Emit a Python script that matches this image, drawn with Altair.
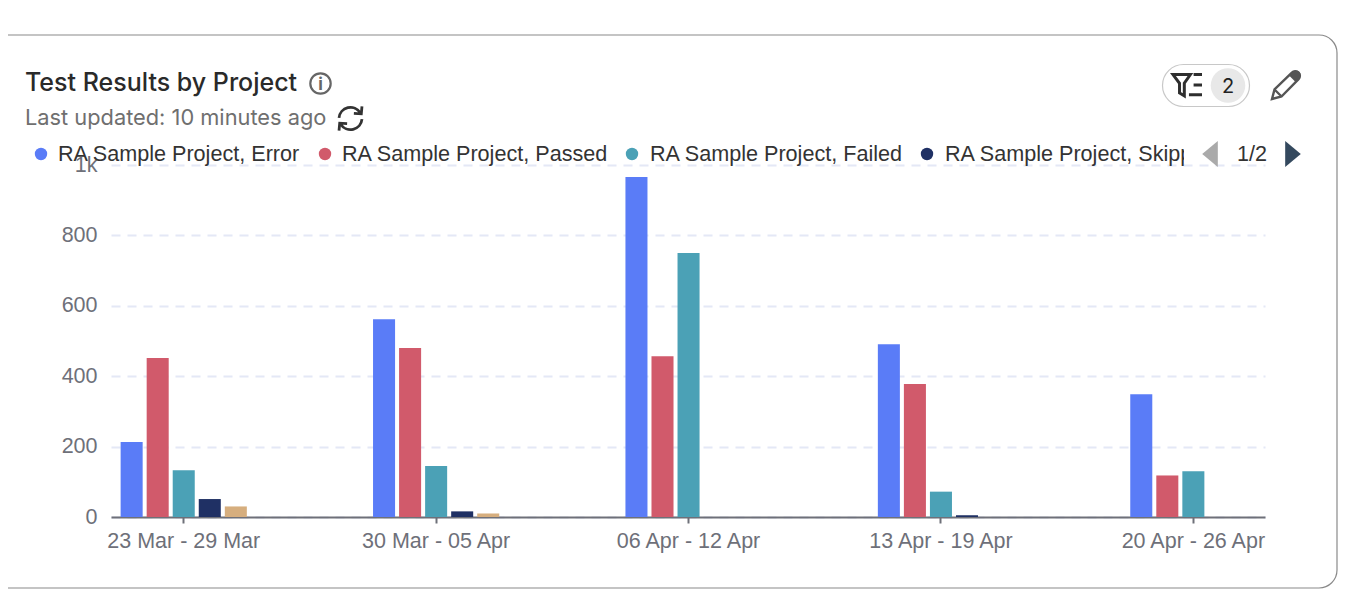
import math

import altair as alt
import pandas as pd

weeks = ["23 Mar - 29 Mar", "30 Mar - 05 Apr", "06 Apr - 12 Apr", "13 Apr - 19 Apr", "20 Apr - 26 Apr"]
series = ["RA Sample Project, Error", "RA Sample Project, Passed", "RA Sample Project, Failed",
          "RA Sample Project, Skipped", "RA Sample Project, Unknown"]
colors = ["#5a7cf7", "#d15a6b", "#4ba1b6", "#1f3064", "#d6ae7e"]
error = [213, 562, 966, 491, 349]
passed = [452, 480, 457, 378, 118]
failed = [133, 145, 750, 72, 130]
skipped = [51, 16, 0, 5, 0]
unknown = [30, 10, 0, 0, 0]
y_ticks = [0, 200, 400, 600, 800, 1000]

legend_dot_x = [41, 325, 632, 927]
legend_text_x = [58, 342, 650, 945]

OX, OY = 111, 165  # page position of the plot origin


def X(v):
    return v - OX


def Y(v):
    return v - OY


rows = []
for name, vals in zip(series, [error, passed, failed, skipped, unknown]):
    for w, v in zip(weeks, vals):
        rows.append({"week": w, "series": name, "value": v})
df = pd.DataFrame(rows)

one = alt.Data(values=[{"a": 1}])


def text(s, x, y, size, color, font, weight=400, align="left"):
    return alt.Chart(one).mark_text(
        font=font, fontSize=size, color=color, fontWeight=weight, align=align, baseline="alphabetic"
    ).encode(x=alt.value(X(x)), y=alt.value(Y(y)), text=alt.value(s))


def box(x0, y0, x1, y1, fill="#ffffff", stroke=None, radius=0, sw=1.0, fill_opacity=1):
    kw = dict(fill=fill, fillOpacity=fill_opacity, cornerRadius=radius)
    if stroke:
        kw.update(stroke=stroke, strokeWidth=sw)
    return alt.Chart(one).mark_rect(**kw).encode(
        x=alt.value(X(x0)), x2=alt.value(X(x1)), y=alt.value(Y(y0)), y2=alt.value(Y(y1))
    )


def icon(path, x, y, r, stroke=None, fill=None, sw=2.0):
    kw = dict(shape=path, size=(2 * r) ** 2, opacity=1, filled=fill is not None)
    if fill:
        kw["fill"] = fill
    if stroke:
        kw.update(stroke=stroke, strokeWidth=sw)
    else:
        kw["strokeWidth"] = 0
    return alt.Chart(one).mark_point(**kw).encode(x=alt.value(X(x)), y=alt.value(Y(y)))


def dot(x, y, d, color=None, stroke=None, sw=2.0):
    kw = dict(shape="circle", size=math.pi * (d / 2) ** 2, opacity=1, filled=color is not None)
    if color:
        kw["fill"] = color
    if stroke:
        kw.update(stroke=stroke, strokeWidth=sw)
    else:
        kw["strokeWidth"] = 0
    return alt.Chart(one).mark_point(**kw).encode(x=alt.value(X(x)), y=alt.value(Y(y)))


INTER = "Inter"
LIB = "Liberation Sans"

bars = alt.Chart(df).mark_bar().encode(
    x=alt.X(
        "week:N", sort=weeks, title=None,
        scale=alt.Scale(paddingInner=0.5, paddingOuter=0.036, align=0.53),
        axis=alt.Axis(
            labelAngle=0, labelFont=LIB, labelFontSize=21.5, labelColor="#6e7079", labelPadding=7,
            labelOverlap=False, labelFlush=False, domainColor="#6e7079", domainWidth=2,
            tickColor="#6e7079", tickWidth=2, tickSize=6, grid=False,
        ),
    ),
    xOffset=alt.XOffset("series:N", sort=series, scale=alt.Scale(paddingInner=0.154)),
    y=alt.Y(
        "value:Q", title=None,
        scale=alt.Scale(domain=[0, 1000], nice=False),
        axis=alt.Axis(
            values=y_ticks, labelExpr="datum.value >= 1000 ? '1k' : datum.label", labelFont=LIB,
            labelFontSize=21.5, labelColor="#6e7079", labelPadding=14, ticks=False, domain=False,
            grid=True, gridColor="#e4e8f6", gridWidth=2, gridDash=[9, 7],
        ),
    ),
    color=alt.Color("series:N", sort=series, scale=alt.Scale(domain=series, range=colors), legend=None),
)

card = box(-10, 35, 1337, 588, fill="#ffffff", fill_opacity=0, stroke="#8a8a8a", radius=18, sw=1.2)

REFRESH = ("M-0.85,-0.05 A0.85,0.85 0 0 1 0.72,-0.42 M0.85,-0.9 L0.8,-0.35 L0.25,-0.38 "
           "M0.85,0.05 A0.85,0.85 0 0 1 -0.72,0.42 M-0.85,0.9 L-0.8,0.35 L-0.25,0.38")
FUNNEL = ("M-1,-0.72 L0.2,-0.72 L-0.22,-0.12 L-0.22,0.75 L-0.55,0.55 L-0.55,-0.12 Z "
          "M0.42,-0.72 L1,-0.72 M0.42,0 L1,0 M0.1,0.68 L1,0.68")
PENCIL = ("M-1,1 L-0.82,0.32 L0.42,-0.88 A0.3,0.3 0 0 1 0.9,-0.42 L-0.32,0.82 Z "
          "M-0.82,0.32 L-0.32,0.82")
CAP = "M0.22,-0.68 L0.5,-0.95 A0.3,0.3 0 0 1 0.95,-0.5 L0.68,-0.22 Z"
TRI_L = "M0.6,-1 L-0.6,0 L0.6,1 Z"
TRI_R = "M-0.6,-1 L0.6,0 L-0.6,1 Z"

layers = [bars, card]

# header
layers += [
    text("Test Results by Project", 25, 91, 25, "#2a2a2a", INTER, 500),
    text("Last updated: 10 minutes ago", 25, 125, 21.8, "#6f6f6f", INTER),
    dot(320.5, 83.5, 23, stroke="#666666", sw=2.2),
    text("i", 320.5, 90, 17, "#666666", INTER, 700, "center"),
    icon(REFRESH, 350.5, 118.5, 13.5, stroke="#333333", sw=2.8),
    box(1162.5, 64.5, 1249.5, 106.5, fill="#ffffff", stroke="#c8c8c8", radius=21, sw=1.2),
    dot(1228, 85.5, 39, color="#e8e8e8"),
    text("2", 1228, 93, 20, "#222222", INTER, 400, "center"),
    icon(FUNNEL, 1187.5, 85, 14.5, stroke="#2e2e2e", sw=3),
    icon(PENCIL, 1286, 85, 14, stroke="#555555", sw=2.4),
    icon(CAP, 1286, 85, 14, fill="#555555"),
]

# legend page
for nm, c, dx, tx in zip(series[:4], colors[:4], legend_dot_x, legend_text_x):
    layers.append(dot(dx, 154, 14, color=c))
    layers.append(text(nm, tx, 161, 21.6, "#333333", LIB))
layers += [
    box(1184, 143, 1226, 163.5, fill="#ffffff"),
    icon(TRI_L, 1210, 154, 13, fill="#aaaaaa"),
    text("1/2", 1252, 161, 21.6, "#333333", LIB, 400, "center"),
    icon(TRI_R, 1293, 154, 13, fill="#34495e"),
]

chart = alt.layer(*layers).properties(
    width=1154,
    height=352,
    padding={"left": 103, "top": 157, "right": 73, "bottom": 89},
    autosize=alt.AutoSizeParams(type="none"),
    background="#ffffff",
).configure_view(stroke=None)

chart.save("out.html", embed_options={"renderer": "svg", "actions": False})
